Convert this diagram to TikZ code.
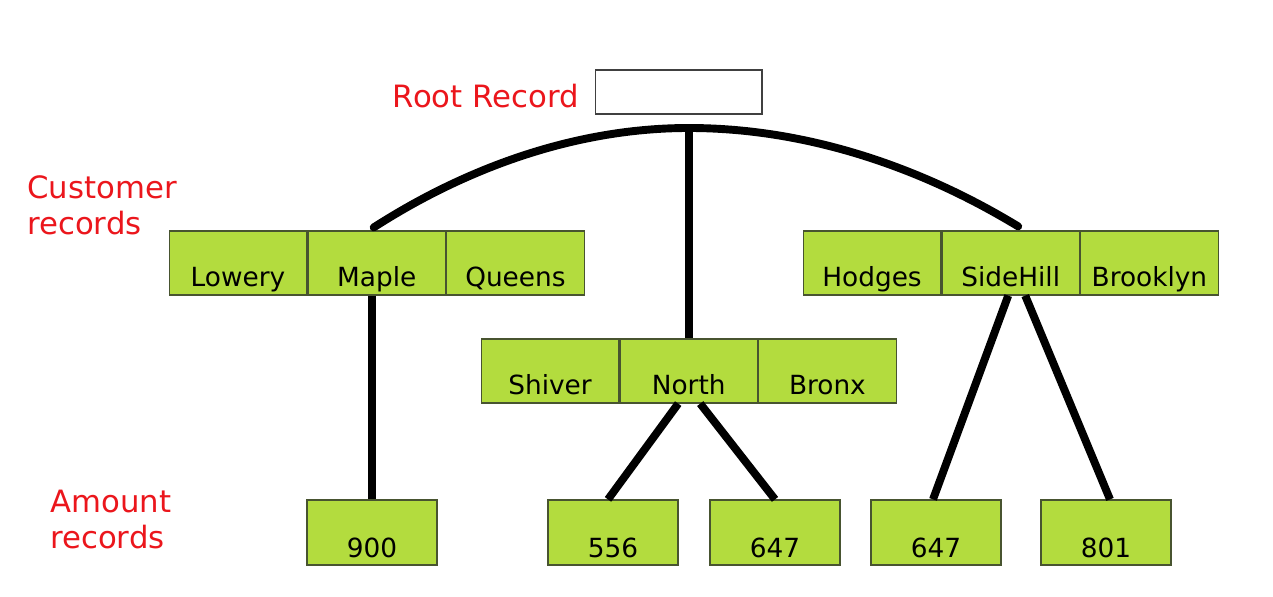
\documentclass[tikz,border=0pt]{standalone}
\usepackage{fontspec}
\setmainfont{DejaVu Sans}
\usetikzlibrary{positioning}
\definecolor{cellgreen}{RGB}{179,220,62}
\definecolor{cellborder}{RGB}{72,84,48}
\definecolor{labelred}{RGB}{235,22,28}
\begin{document}
\begin{tikzpicture}[x=0.02cm,y=-0.02cm,node distance=0pt,
  cell/.style={draw=cellborder,fill=cellgreen,line width=0.7pt,inner sep=0pt,
    minimum width=2.75cm,text height=1.12cm,text depth=0.16cm,
    font=\fontsize{15}{18}\selectfont},
  amount/.style={cell,minimum width=2.6cm,text height=1.16cm,text depth=0.14cm},
  redlabel/.style={text=labelred,inner sep=0pt,font=\fontsize{17.5}{20.5}\selectfont},
  conn/.style={line width=4.5pt}]

\useasboundingbox (0,0) rectangle (1273,597);

\node[draw=black!75,line width=0.6pt,minimum width=3.34cm,minimum height=0.88cm,inner sep=0pt] (root) at (678.5,92) {};
\node[redlabel,anchor=base east] (rootlabel) at (579,108) {Root Record};

\node[cell] (lowery) at (238,263) {Lowery};
\node[cell,right=of lowery] (maple) {Maple};
\node[cell,right=of maple] (queens) {Queens};

\node[cell] (shiver) at (550,371) {Shiver};
\node[cell,right=of shiver] (north) {North};
\node[cell,right=of north] (bronx) {Bronx};

\node[cell] (hodges) at (872,263) {Hodges};
\node[cell,right=of hodges] (sidehill) {SideHill};
\node[cell,right=of sidehill] (brooklyn) {Brooklyn};

\node[amount] (amt900) at (372,532.5) {900};
\node[amount] (amt556) at (613,532.5) {556};
\node[amount] (amt647a) at (775,532.5) {647};
\node[amount] (amt647b) at (936,532.5) {647};
\node[amount] (amt801) at (1106,532.5) {801};

\node[redlabel,anchor=north west,align=left] (custlabel) at (27,175) {Customer\\records};
\node[redlabel,anchor=north west,align=left] (amtlabel) at (50,490) {Amount\\records};

\coordinate (apex) at (north.north |- 0,128);
\draw[conn,line cap=round] ([xshift=-0.06cm,yshift=0.06cm]maple.north) parabola bend (apex) ([xshift=0.15cm,yshift=0.08cm]sidehill.north);
\draw[conn] (apex) -- (north.north);
\draw[conn] (amt900.north |- maple.south) -- (amt900.north);
\draw[conn] ([xshift=-0.21cm]north.south) -- ([xshift=-0.1cm]amt556.north);
\draw[conn] ([xshift=0.23cm]north.south) -- (amt647a.north);
\draw[conn] ([xshift=-0.05cm]sidehill.south) -- ([xshift=-0.06cm]amt647b.north);
\draw[conn] ([xshift=0.29cm]sidehill.south) -- ([xshift=0.08cm]amt801.north);
\end{tikzpicture}
\end{document}
